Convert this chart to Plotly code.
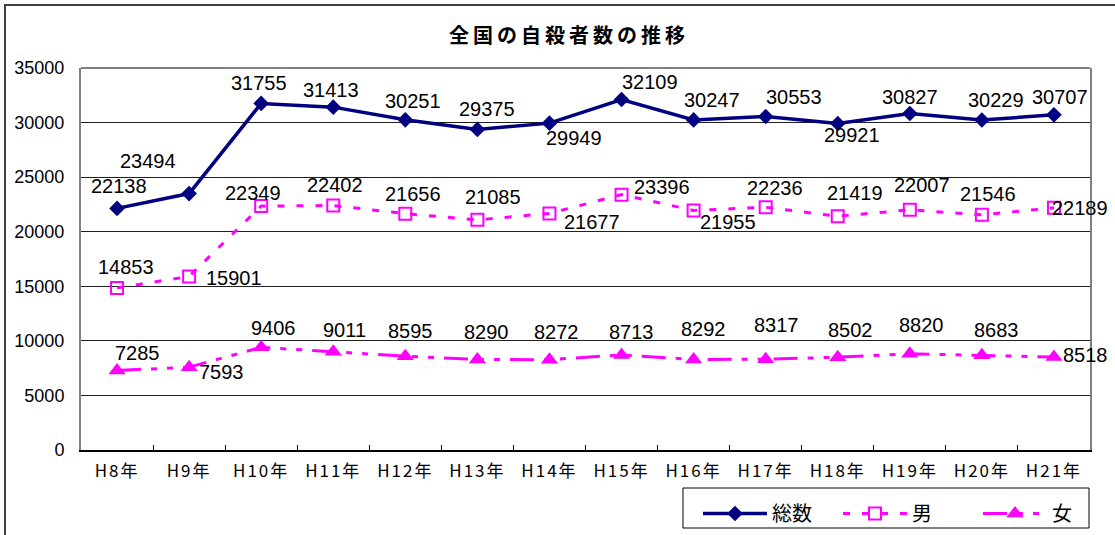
import plotly.graph_objects as go

categories = ["H8年", "H9年", "H10年", "H11年", "H12年", "H13年", "H14年",
              "H15年", "H16年", "H17年", "H18年", "H19年", "H20年", "H21年"]
total = [22138, 23494, 31755, 31413, 30251, 29375, 29949, 32109, 30247, 30553, 29921, 30827, 30229, 30707]
male = [14853, 15901, 22349, 22402, 21656, 21085, 21677, 23396, 21955, 22236, 21419, 22007, 21546, 22189]
female = [7285, 7593, 9406, 9011, 8595, 8290, 8272, 8713, 8292, 8317, 8502, 8820, 8683, 8518]
y_ticks = [0, 5000, 10000, 15000, 20000, 25000, 30000, 35000]
title_text = "全国の自殺者数の推移"

# label offsets (pixels, dx right, dy down) relative to each marker
off_total = [(2, -22), (-41, -33), (-2, -20), (-2, -17), (8, -19), (10, -20), (25, 15),
             (28, -18), (18, -20), (28, -20), (14, 12), (0, -17), (14, -20), (6, -18)]
off_male = [(9, -21), (45, 2), (-8, -13), (2, -21), (8, -20), (16, -23), (43, 9),
            (40, -8), (34, 12), (9, -19), (17, -23), (12, -25), (6, -21), (26, 0)]
off_female = [(20, -17), (32, 5), (12, -19), (11, -22), (5, -25), (9, -28), (7, -28),
              (10, -23), (10, -31), (11, -34), (13, -27), (12, -29), (15, -25), (32, -2)]

# plot-area geometry in pixels
L, R, T, B = 81, 1090, 68, 450
W, H = R - L, B - T
def px(x):
    return (x - L) / W
def py(y):
    return (B - y) / H

label_font = dict(family="Liberation Sans, Arial, sans-serif", size=20, color="black")

fig = go.Figure()
fig.add_trace(go.Scatter(
    x=categories, y=total, name="総数", mode="lines+markers",
    line=dict(color="#000080", width=3.5),
    marker=dict(symbol="diamond", size=12, color="#000080"),
    cliponaxis=False,
))
fig.add_trace(go.Scatter(
    x=categories, y=male, name="男", mode="lines+markers",
    line=dict(color="#FF00FF", width=3, dash="7px,12px"),
    marker=dict(symbol="square-open", size=12, color="#FF00FF", line=dict(width=2, color="#FF00FF")),
    cliponaxis=False,
))
fig.add_trace(go.Scatter(
    x=categories, y=female, name="女", mode="lines+markers",
    line=dict(color="#FF00FF", width=3, dash="24px,10px,6px,10px,6px,10px"),
    marker=dict(symbol="triangle-up", size=15, color="#FF00FF"),
    cliponaxis=False,
))

for vals, offs in ((total, off_total), (male, off_male), (female, off_female)):
    for c, v, (dx, dy) in zip(categories, vals, offs):
        fig.add_annotation(x=c, y=v, text=str(v), showarrow=False, xshift=dx, yshift=-dy,
                           xanchor="center", yanchor="middle", font=label_font)

# plot area top border
fig.add_shape(type="line", xref="paper", yref="paper", x0=0, x1=1, y0=1, y1=1,
              line=dict(color="#808080", width=2))
# outer chart border
fig.add_shape(type="rect", xref="paper", yref="paper",
              x0=px(5), x1=px(1130), y0=py(550), y1=py(5),
              line=dict(color="#404040", width=2))
# legend box
fig.add_shape(type="rect", xref="paper", yref="paper",
              x0=px(683), x1=px(1089), y0=py(528), y1=py(488),
              line=dict(color="black", width=1))

fig.update_layout(
    width=1115, height=535,
    margin=dict(l=L, r=1115 - R, t=T, b=535 - B, autoexpand=False),
    paper_bgcolor="white", plot_bgcolor="white",
    title=dict(text='<b><span style="letter-spacing:4px">' + title_text + '</span></b>',
               x=569 / 1115, xref="container", xanchor="center",
               y=1 - 36 / 535, yref="container", yanchor="middle",
               font=dict(family="Noto Sans CJK JP", size=20, color="black", weight=900)),
    showlegend=True,
    legend=dict(orientation="h", x=px(698), y=py(494),
                xanchor="left", yanchor="top",
                borderwidth=0, bgcolor="rgba(0,0,0,0)",
                font=dict(family="Noto Sans CJK JP", size=20, color="black"),
                itemwidth=64, entrywidth=61, tracegroupgap=0),
    xaxis=dict(type="category", tickson="boundaries", ticks="inside", ticklen=5,
               tickcolor="black", tickwidth=1, showline=True, linecolor="black", linewidth=2,
               showgrid=False, range=[-0.5, 13.5],
               tickvals=categories,
               ticktext=['<span style="letter-spacing:2px">' + c + '</span>' for c in categories],
               ticklabelstandoff=5,
               tickfont=dict(family="Noto Sans CJK JP", size=17, color="black")),
    yaxis=dict(range=[0, 35000], tickvals=y_ticks, ticktext=[str(v) for v in y_ticks],
               showgrid=True, gridcolor="#202020",
               gridwidth=1, showline=True, linecolor="#808080", linewidth=2, mirror=True,
               ticks="", zeroline=False, ticklabelstandoff=11,
               tickfont=dict(family="Liberation Sans, Arial, sans-serif", size=18, color="black")),
)

fig.write_html("out.html", config={"displayModeBar": False},
               post_script="document.body.style.margin='0';")
